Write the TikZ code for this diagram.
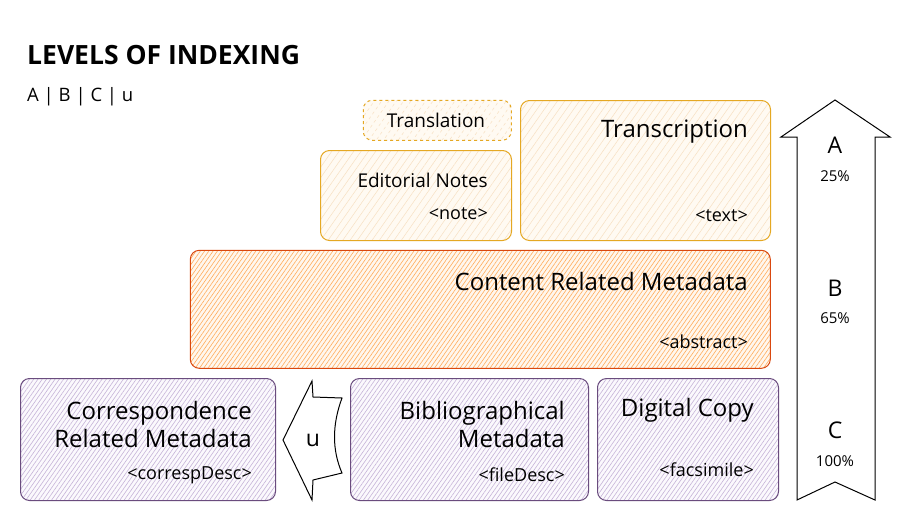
\documentclass[tikz,border=0pt]{standalone}
\usepackage{fontspec}
\setmainfont{Open Sans}
\usetikzlibrary{patterns.meta}

\definecolor{ylwline}{HTML}{E5A823}
\definecolor{ylwfill}{HTML}{FFFAF2}
\definecolor{ylwhatch}{HTML}{F7E0C2}
\definecolor{orgline}{HTML}{D9480F}
\definecolor{orgfill}{HTML}{FFF7EE}
\definecolor{orghatch}{HTML}{FFAD5C}
\definecolor{purline}{HTML}{6A4C7E}
\definecolor{purfill}{HTML}{FBF9FD}
\definecolor{purhatch}{HTML}{C6B4D8}

\tikzset{
  levelbox/.style={rounded corners=9pt, line width=1pt, anchor=north west, inner sep=0pt},
  ylwbox/.style={levelbox, draw=ylwline, preaction={fill=ylwfill},
    pattern={Lines[angle=55,distance=6pt,line width=.5pt]}, pattern color=ylwhatch},
  orgbox/.style={levelbox, draw=orgline, preaction={fill=orgfill},
    pattern={Lines[angle=55,distance=3.5pt,line width=.6pt]}, pattern color=orghatch},
  purbox/.style={levelbox, draw=purline, preaction={fill=purfill},
    pattern={Lines[angle=55,distance=3.5pt,line width=.6pt]}, pattern color=purhatch},
  biglbl/.style={font=\fontsize{24}{28}\selectfont, anchor=east, inner sep=0pt, align=right},
  midlbl/.style={font=\fontsize{19}{22}\selectfont, anchor=east, inner sep=0pt},
  tag/.style={font=\fontsize{18}{20}\selectfont, anchor=east, inner sep=0pt},
  lvl/.style={font=\fontsize{23}{26}\selectfont, inner sep=0pt},
  pct/.style={font=\fontsize{15}{18}\selectfont, inner sep=0pt},
  arrowline/.style={draw=black, fill=white, line width=1pt, line join=miter},
}

\begin{document}
\begin{tikzpicture}[x=1pt,y=-1pt]
    \useasboundingbox[fill=white] (0,0) rectangle (911,531);
    % heading
    \node[font=\fontsize{26.5}{30}\selectfont\bfseries, anchor=base west, inner sep=0pt] (title) at (27,64) {LEVELS OF INDEXING};
    \node[font=\fontsize{18.5}{22}\selectfont, anchor=base west, inner sep=0pt] (subtitle) at (27,101) {A | B | C | u};

    % level A
    \node[ylwbox, dashed, minimum width=148pt, minimum height=40pt] (transl) at (363,100) {};
    \node[midlbl, anchor=center] (transllbl) at (436,120) {Translation};
    \node[ylwbox, minimum width=191pt, minimum height=90pt] (notes) at (320,150) {};
    \node[midlbl] (noteslbl) at (488,180) {Editorial Notes};
    \node[tag] (notestag) at (488,214) {<note>};
    \node[ylwbox, minimum width=250pt, minimum height=140pt] (transcr) at (520,100) {};
    \node[biglbl] (transcrlbl) at (748,132) {Transcription};
    \node[tag] (transcrtag) at (748,216) {<text>};

    % level B
    \node[orgbox, minimum width=580pt, minimum height=118pt] (content) at (190,250) {};
    \node[biglbl] (contentlbl) at (748,281) {Content Related Metadata};
    \node[tag] (contenttag) at (748,342) {<abstract>};

    % level C
    \node[purbox, minimum width=255pt, minimum height=122pt] (corresp) at (20,378) {};
    \node[biglbl] (corresplbl) at (252,424) {Correspondence\\Related Metadata};
    \node[tag] (corresptag) at (252,475) {<correspDesc>};
    \node[purbox, minimum width=238pt, minimum height=122pt] (biblio) at (350,378) {};
    \node[biglbl] (bibliolbl) at (565,424) {Bibliographical\\Metadata};
    \node[tag] (bibliotag) at (565,475) {<fileDesc>};
    \node[purbox, minimum width=181pt, minimum height=122pt] (digital) at (597,378) {};
    \node[biglbl] (digitallbl) at (754,410) {Digital Copy};
    \node[tag] (digitaltag) at (754,470) {<facsimile>};

    % u arrow
    \draw[arrowline] (283,440) -- (312,381) -- (313,397) -- (342,398)
        .. controls (332,425) and (332,450) .. (342,473) -- (313,480) -- (312,500) -- cycle;
    \node[lvl] (ulbl) at (313,440) {u};

    % level arrow
    \draw[arrowline] (835,100) -- (890,137) -- (875,137) -- (875,500) -- (835,482)
        -- (797,500) -- (797,137) -- (781,137) -- cycle;
    \node[lvl] (lvlA) at (835,145) {A};
    \node[pct] (pctA) at (835,176) {25\%};
    \node[lvl] (lvlB) at (835,288) {B};
    \node[pct] (pctB) at (835,318) {65\%};
    \node[lvl] (lvlC) at (835,430) {C};
    \node[pct] (pctC) at (835,461) {100\%};
\end{tikzpicture}
\end{document}
